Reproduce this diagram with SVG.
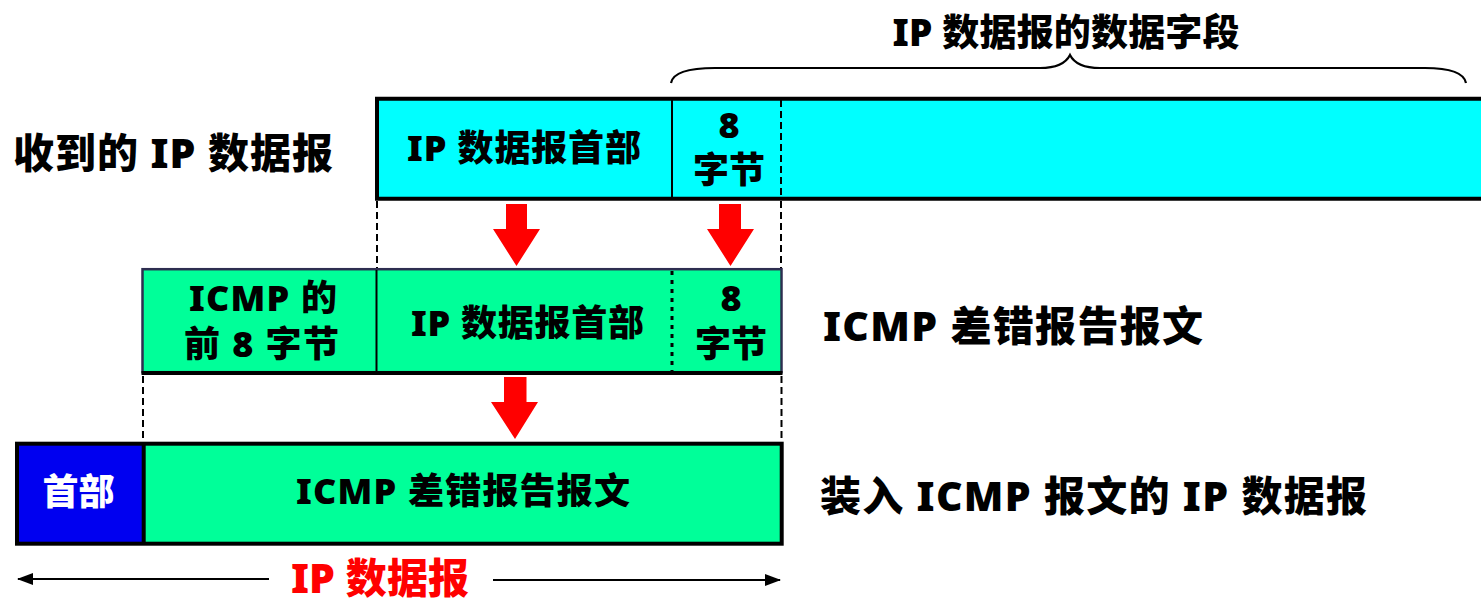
<svg xmlns="http://www.w3.org/2000/svg" width="1481" height="603" viewBox="0 0 1481 603">
<defs>
<style>
text{font-family:"Noto Sans","Noto Sans CJK SC",sans-serif;font-weight:900;fill:#000;dominant-baseline:central}
.c{text-anchor:middle}
.s36{font-size:36px}
.s40{font-size:41px}
.cyan{fill:#00FFFF}
.green{fill:#00FF99}
.blk{stroke:#000;stroke-width:4;fill:none}
.dash{stroke:#000;stroke-width:2;stroke-dasharray:7,4;fill:none}
.dot{stroke:#000;stroke-width:3;stroke-dasharray:4,5;fill:none}
.red{fill:#FF0000}
</style>
<marker id="ah" viewBox="0 0 16 12" refX="15" refY="6" markerWidth="16" markerHeight="12" markerUnits="userSpaceOnUse" orient="auto-start-reverse">
<path d="M0,0 L16,6 L0,12 Z" fill="#000"/>
</marker>
</defs>
<rect width="1481" height="603" fill="#fff"/>

<g id="title-data-field">
<text class="c" x="1066" y="31" style="font-size:37px" textLength="347" lengthAdjust="spacing">IP 数据报的数据字段</text>
<path d="M671,83 C673,72 690,68 715,68 L1040,68 C1058,68 1066,63 1070,55 C1074,63 1082,68 1100,68 L1425,68 C1450,68 1464,73 1466,83" fill="none" stroke="#000" stroke-width="2.2"/>
</g>

<g id="label-received">
<text class="s40" x="13" y="152" textLength="320" lengthAdjust="spacing">收到的 IP 数据报</text>
</g>

<g id="row1">
<rect class="cyan" x="377" y="98.7" width="1110" height="100"/>
<line x1="672" y1="99" x2="672" y2="198" stroke="#000" stroke-width="2"/>
<line class="dash" x1="781" y1="100" x2="781" y2="197"/>
<path class="blk" d="M1485,98.7 L377,98.7 L377,198.7 L1485,198.7"/>
<text class="c s36" x="524" y="147" textLength="234" lengthAdjust="spacing">IP 数据报首部</text>
<text class="c s36" x="729" y="124.5">8</text>
<text class="c s36" x="729" y="169">字节</text>
</g>

<g id="row2">
<rect class="green" x="142.5" y="269.2" width="639" height="103" stroke="#2e2e50" stroke-width="2.5"/>
<line x1="141.5" y1="373" x2="782.5" y2="373" stroke="#000" stroke-width="4"/>
<line x1="376.5" y1="270" x2="376.5" y2="372" stroke="#000" stroke-width="2"/>
<line class="dot" x1="672" y1="271" x2="672" y2="371"/>
<text class="c s36" x="263" y="297" textLength="148" lengthAdjust="spacing">ICMP 的</text>
<text class="c s36" x="261.5" y="343" textLength="155" lengthAdjust="spacing">前 8 字节</text>
<text class="c s36" x="527.5" y="322" textLength="233" lengthAdjust="spacing">IP 数据报首部</text>
<text class="c s36" x="731" y="297">8</text>
<text class="c s36" x="731" y="343">字节</text>
</g>

<g id="label-icmp-error">
<text class="s40" x="823" y="325" textLength="380" lengthAdjust="spacing">ICMP 差错报告报文</text>
</g>

<g id="row3">
<rect x="17" y="443.7" width="126.7" height="100" fill="#0000F0"/>
<rect class="green" x="143.7" y="443.7" width="638" height="100"/>
<rect class="blk" x="17" y="443.7" width="764.7" height="100"/>
<line x1="143.7" y1="443.7" x2="143.7" y2="543.7" stroke="#000" stroke-width="4"/>
<text class="c s36" x="78.5" y="491" style="fill:#fff">首部</text>
<text class="c s36" x="463" y="490" textLength="334" lengthAdjust="spacing">ICMP 差错报告报文</text>
</g>

<g id="label-encapsulated">
<text class="s40" x="820" y="495" textLength="547" lengthAdjust="spacing">装入 ICMP 报文的 IP 数据报</text>
</g>

<g id="label-ip-datagram">
<text class="c" x="380" y="577" style="font-size:41px;fill:#FF0000" textLength="178" lengthAdjust="spacing">IP 数据报</text>
</g>

<g id="connectors">
<line class="dash" x1="377" y1="201" x2="377" y2="268"/>
<line class="dash" x1="781" y1="201" x2="781" y2="268"/>
<line class="dash" x1="143" y1="376" x2="143" y2="442"/>
<line class="dash" x1="781.5" y1="376" x2="781.5" y2="442"/>
<polygon class="red" points="506,204 527,204 527,229 540,229 516.5,266 493,229 506,229"/>
<polygon class="red" points="719,204 741,204 741,229 754,229 730.5,266 707,229 719,229"/>
<polygon class="red" points="504,377 526.5,377 526.5,402 538,402 515,439 491,402 504,402"/>
<line x1="269" y1="579" x2="18" y2="579" stroke="#000" stroke-width="2" marker-end="url(#ah)"/>
<line x1="493" y1="580" x2="780" y2="580" stroke="#000" stroke-width="2" marker-end="url(#ah)"/>
</g>
</svg>
